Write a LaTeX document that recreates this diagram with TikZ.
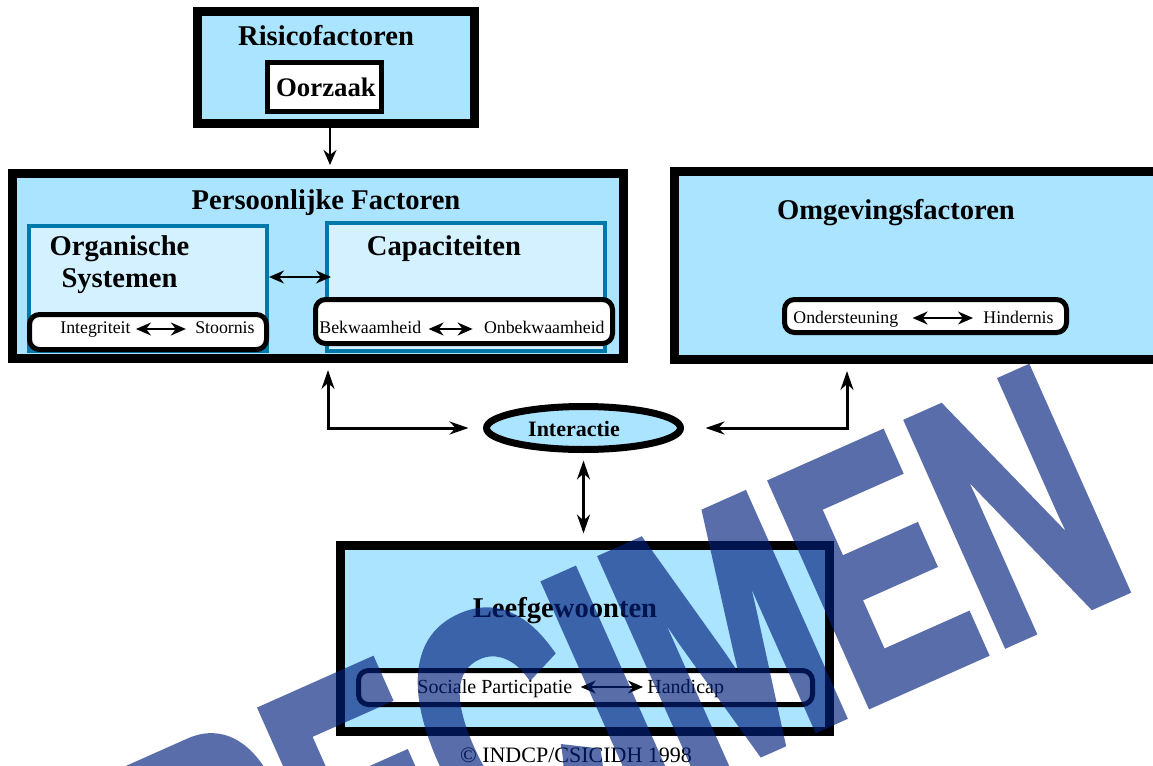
\documentclass[tikz,border=0pt]{standalone}
\usepackage{fontspec}
\setmainfont{Liberation Serif}
\newfontfamily\wmfont[FakeBold=3]{Liberation Sans Bold}
\usetikzlibrary{arrows.meta,shapes.geometric}
\definecolor{lblue}{RGB}{170,228,255}
\definecolor{pblue}{RGB}{212,241,255}
\definecolor{tealb}{RGB}{0,120,170}
\definecolor{wmblue}{RGB}{0,31,124}
\begin{document}
\begin{tikzpicture}[x=0.5pt,y=-0.5pt] % 1 px = 0.5pt, ось y вниз
\tikzstyle{bigbox} = [draw, line width=4.5pt, fill=lblue, inner sep=0pt] % толстая рамка
\tikzstyle{subbox} = [draw=tealb, line width=2pt, fill=pblue, inner sep=0pt] % внутренний блок
\tikzstyle{pill} = [draw, line width=2.5pt, fill=white, rounded corners=5pt, inner sep=0pt] % скругленная рамка
\tikzstyle{title} = [anchor=base, inner sep=0pt, font=\bfseries\fontsize{14.3}{16}\selectfont] % заголовок
\tikzstyle{small} = [inner sep=0pt, font=\fontsize{8.9}{10}\selectfont] % мелкий текст
\tikzstyle{dbl} = [<->, >={Stealth[length=7.5pt,width=6.5pt]}, line width=1pt] % двойная стрелка
\tikzstyle{link} = [<->, >={Stealth[length=9.5pt,width=6.5pt]}, line width=1.5pt] % связь с Interactie
\tikzstyle{wmark} = [rotate=24, xscale=0.64, anchor=base east, inner sep=0pt, text=wmblue,
  font=\wmfont\fontsize{174.5}{180}\selectfont] % водяной знак

\useasboundingbox (0,0) rectangle (1153,766);
\clip (0,0) rectangle (1153,766);

% блоки
\node[bigbox, minimum width=138.5pt, minimum height=56pt] (risk) at (336,67.5) {};
\node[draw, line width=2.5pt, fill=white, inner sep=0pt, minimum width=57pt, minimum height=24.5pt] (oorz) at (324.5,87) {};
\node[bigbox, minimum width=305.5pt, minimum height=92.5pt] (pers) at (318,266) {};
\node[subbox, minimum width=119.25pt, minimum height=62.5pt] (org) at (147.75,288.5) {};
\node[subbox, minimum width=139.25pt, minimum height=64pt] (cap) at (465.75,287) {};
\node[pill, minimum width=118.5pt, minimum height=17.5pt] (integbox) at (148,332) {};
\node[pill, minimum width=148.5pt, minimum height=22pt] (bekwbox) at (464,321.5) {};
\node[bigbox, minimum width=245.5pt, minimum height=94pt] (omg) at (920,265.5) {};
\node[pill, minimum width=141pt, minimum height=16.5pt] (onderbox) at (925.5,316) {};
\node[draw, ellipse, line width=3.5pt, fill=lblue, inner sep=0pt, minimum width=97pt, minimum height=21.5pt] (inter) at (583.5,428) {};
\node[bigbox, minimum width=244.5pt, minimum height=93pt] (leef) at (585,638.5) {};
\node[pill, minimum width=227pt, minimum height=17pt] (socbox) at (585.5,687.5) {};

% тексты
\node[title] (risktxt) at (326,45) {Risicofactoren};
\node[title, font=\bfseries\fontsize{13.4}{15}\selectfont] (oorztxt) at (326,96) {Oorzaak};
\node[title] (perstxt) at (326,209) {Persoonlijke Factoren};
\node[title] (orgtxt) at (119.5,255) {Organische};
\node[title] (systxt) at (119.5,287) {Systemen};
\node[title] (captxt) at (444,255) {Capaciteiten};
\node[title] (omgtxt) at (896,219) {Omgevingsfactoren};
\node[title] (leeftxt) at (565,617) {Leefgewoonten};
\node[title, font=\bfseries\fontsize{11}{13}\selectfont] (intertxt) at (574,436) {Interactie};

\node[small, anchor=base west] (integ) at (60,333) {Integriteit};
\node[small, anchor=base east] (stoor) at (255,333) {Stoornis};
\node[small, anchor=base west] (bekw) at (319,333) {Bekwaamheid};
\node[small, anchor=base east] (onbekw) at (605,333) {Onbekwaamheid};
\node[small, anchor=base west] (onder) at (793,323) {Ondersteuning};
\node[small, anchor=base east] (hind) at (1054,323) {Hindernis};
\node[small, anchor=base west, font=\fontsize{10}{12}\selectfont] (socp) at (417,693) {Sociale Participatie};
\node[small, anchor=base west, font=\fontsize{10}{12}\selectfont] (handi) at (647,693) {Handicap};
\node[anchor=base, inner sep=0pt, font=\fontsize{11}{13}\selectfont] (copy) at (576,762) {\textcopyright{} INDCP/CSICIDH 1998};

% стрелки
\draw[-{Stealth[length=7.5pt,width=6.5pt]}, line width=1.2pt, shorten >=2pt] (risk.south -| 330,0) -- (pers.north -| 330,0);
\draw[dbl] (org.east |- 0,277) -- ([xshift=3.25pt]cap.west |- 0,277);
\draw[dbl] ([xshift=2.5pt,yshift=2pt]integ.base east) -- ([xshift=-4.5pt,yshift=2pt]stoor.base west);
\draw[dbl] ([xshift=3.5pt,yshift=2pt]bekw.base east) -- ([xshift=-5.5pt,yshift=2pt]onbekw.base west);
\draw[dbl] ([xshift=7pt,yshift=2.5pt]onder.base east) -- ([xshift=-5pt,yshift=2.5pt]hind.base west);
\draw[dbl] ([xshift=4pt,yshift=3pt]socp.base east) -- ([xshift=-2pt,yshift=3pt]handi.base west);
\draw[link, shorten <=3.5pt, shorten >=7.25pt] ([xshift=5pt]pers.south) |- (inter.west);
\draw[link, shorten <=3.5pt, shorten >=10.75pt] ([xshift=-36.5pt]omg.south) |- (inter.east);
\draw[link, shorten <=3.75pt, shorten >=3.75pt] (inter.south) -- (inter.south |- leef.north);

% водяной знак
\begin{scope}[transparency group, opacity=0.65]
\node[wmark] (spec) at (1140,583) {SPECIMEN};
\end{scope}
\end{tikzpicture}
\end{document}
